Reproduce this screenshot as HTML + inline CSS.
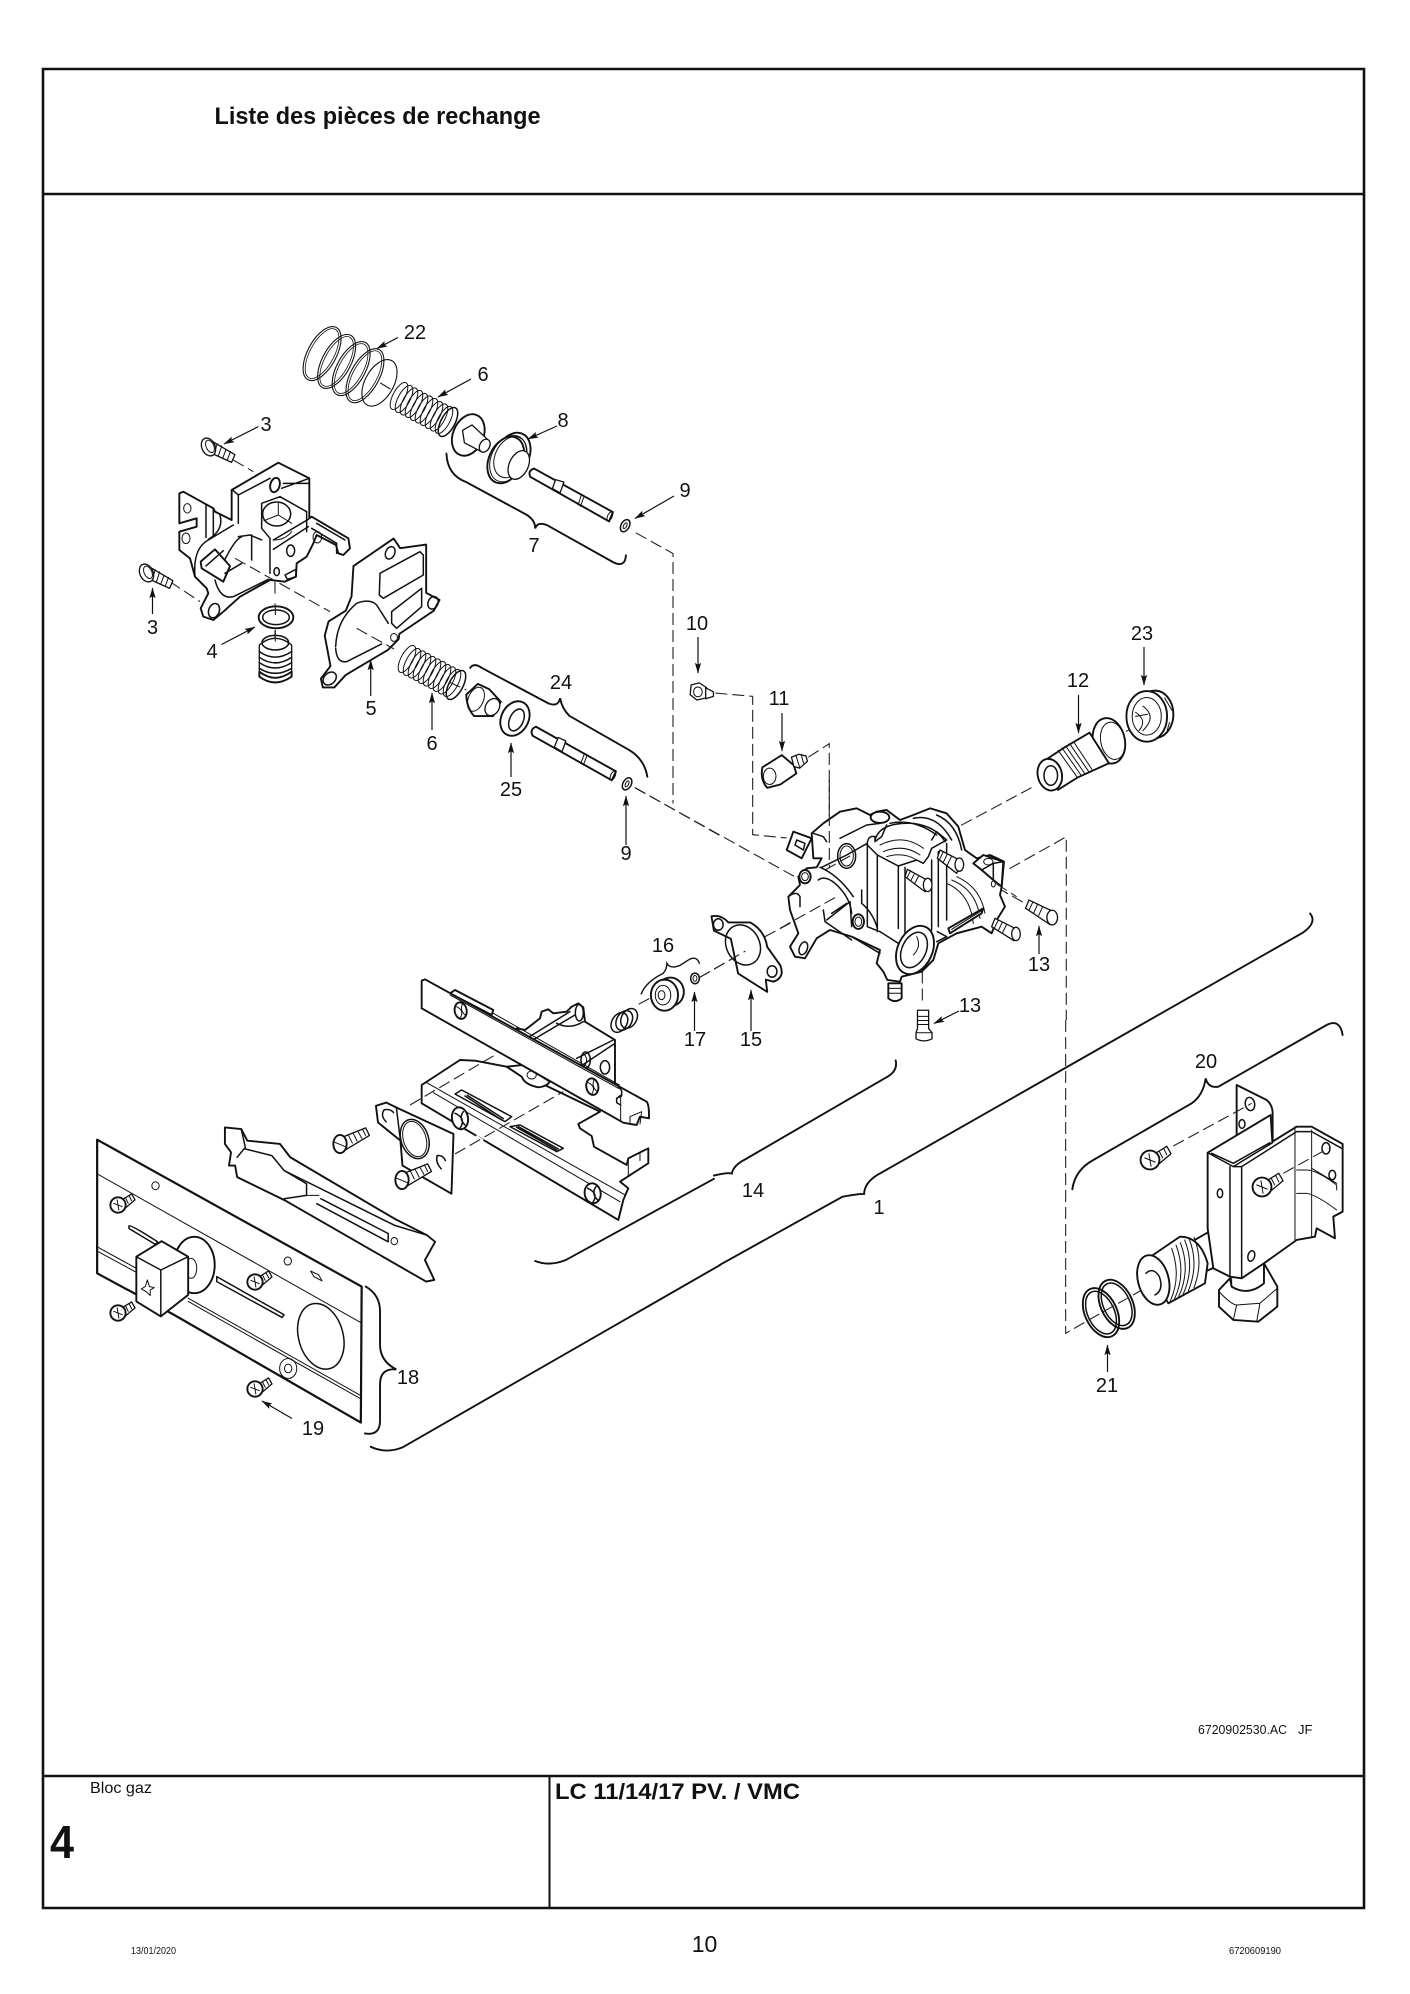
<!DOCTYPE html>
<html lang="fr"><head><meta charset="utf-8"><title>Liste des pièces de rechange</title>
<style>
html,body{margin:0;padding:0;background:#fff}
svg{display:block}
svg *{vector-effect:non-scaling-stroke}
text{font-family:"Liberation Sans",sans-serif;fill:#111;stroke:none}
.n{font-size:20px;text-anchor:middle}
.o{fill:#fff;stroke:#111;stroke-width:1.9;stroke-linejoin:round;stroke-linecap:round}
.t{fill:none;stroke:#111;stroke-width:1;stroke-linejoin:round;stroke-linecap:round}
.m{fill:none;stroke:#111;stroke-width:1.5;stroke-linejoin:round;stroke-linecap:round}
.w{fill:#fff;stroke:#111;stroke-width:1.3;stroke-linejoin:round}
.d{fill:none;stroke:#222;stroke-width:1.1;stroke-dasharray:12 5}
.b{fill:none;stroke:#111;stroke-width:1.9;stroke-linecap:round}
.a{stroke:#111;stroke-width:1.2;fill:none;marker-end:url(#ah)}
</style></head><body>
<svg width="1410" height="1994" viewBox="0 0 1410 1994" xmlns="http://www.w3.org/2000/svg">
<defs>
<marker id="ah" markerWidth="9" markerHeight="6" refX="8.5" refY="3" orient="auto" markerUnits="strokeWidth"><path d="M0,0.4L9,3L0,5.6L1.6,3Z" fill="#111"/></marker>
<g id="sc">
<path class="w" d="M2,-6L24,7L21,14L-1,4Z"/>
<path class="t" d="M8,-3L5,6M12,-1L9,8M16,2L13,10M20,4L17,12"/>
<ellipse class="w" cx="0" cy="0" rx="6" ry="8.5" transform="rotate(-25)"/>
<ellipse class="t" cx="1.5" cy="0" rx="3.5" ry="6" transform="rotate(-25)"/>
</g>
<g id="sp">
<ellipse class="t" cx="-24" cy="-13" rx="6" ry="15" transform="rotate(28 -24 -13)"/>
<ellipse class="t" cx="-19" cy="-10" rx="6" ry="15" transform="rotate(28 -19 -10)"/>
<ellipse class="t" cx="-14" cy="-7.5" rx="6" ry="15" transform="rotate(28 -14 -7.5)"/>
<ellipse class="t" cx="-9" cy="-5" rx="6" ry="15" transform="rotate(28 -9 -5)"/>
<ellipse class="t" cx="-4" cy="-2" rx="6" ry="15" transform="rotate(28 -4 -2)"/>
<ellipse class="t" cx="1" cy="0.5" rx="6" ry="15" transform="rotate(28 1 0.5)"/>
<ellipse class="t" cx="6" cy="3" rx="6" ry="15" transform="rotate(28 6 3)"/>
<ellipse class="t" cx="11" cy="6" rx="6" ry="15" transform="rotate(28 11 6)"/>
<ellipse class="t" cx="16" cy="8.5" rx="6" ry="15" transform="rotate(28 16 8.5)"/>
<ellipse class="t" cx="21" cy="11" rx="6" ry="15" transform="rotate(28 21 11)"/>
<ellipse class="m" cx="25" cy="13" rx="7" ry="16" transform="rotate(28 25 13)"/>
</g>
<g id="ph">
<path class="w" d="M3,-5L16,-13L20,-6L7,5Z"/>
<path class="t" d="M9,-8L12,-2M13,-11L16,-5"/>
<circle class="o" cx="0" cy="0" r="9"/>
<path class="t" d="M-5,-2L5,2M-1,-6L1,6"/>
</g>
<g id="sl">
<path class="w" d="M2,-7L27,-17L31,-9L6,6Z"/>
<path class="t" d="M9,-9L13,-1M14,-11L18,-3M19,-13L23,-6M24,-15L27,-9"/>
<ellipse class="o" cx="0" cy="0" rx="7" ry="9.5"/>
<path class="t" d="M-6,-2L6,3"/>
</g>
</defs>

<!-- frame -->
<rect width="1410" height="1994" fill="#fff"/>
<g fill="none" stroke="#111">
<rect x="43" y="69" width="1321" height="1839" stroke-width="2.6"/>
<path d="M43,194H1364" stroke-width="2.4"/>
<path d="M43,1776H1364" stroke-width="2.6"/>
<path d="M549.5,1776V1908" stroke-width="2"/>
</g>
<text x="214.5" y="124" font-size="24" font-weight="bold" textLength="326" lengthAdjust="spacingAndGlyphs">Liste des pièces de rechange</text>
<text x="90" y="1793" font-size="16" textLength="62" lengthAdjust="spacingAndGlyphs">Bloc gaz</text>
<text x="555" y="1799" font-size="22" font-weight="bold" textLength="245" lengthAdjust="spacingAndGlyphs">LC 11/14/17 PV. / VMC</text>
<text x="50" y="1858" font-size="46" font-weight="bold" textLength="24" lengthAdjust="spacingAndGlyphs">4</text>
<text x="704.5" y="1952" font-size="23" text-anchor="middle">10</text>
<text x="131" y="1954" font-size="10.5" textLength="45" lengthAdjust="spacingAndGlyphs">13/01/2020</text>
<text x="1229" y="1954" font-size="10.5" textLength="52" lengthAdjust="spacingAndGlyphs">6720609190</text>
<text x="1198" y="1734" font-size="13" textLength="89" lengthAdjust="spacingAndGlyphs">6720902530.AC</text>
<text x="1298" y="1734" font-size="13">JF</text>

<!-- G1: upper left region -->
<g transform="translate(120,300) scale(.3827,.3571)">
<path class="d" d="M860,1070L905,1092M1345,1365L1568,1500M680,232L715,255M1348,652L1445,710V1410"/>
<path class="b" d="M853,430Q855,490 905,510L1060,600Q1085,615 1085,640Q1090,620 1115,630L1290,735Q1320,750 1322,715"/>
<path class="b" d="M915,1030Q925,1015 945,1030L1120,1130Q1145,1140 1150,1115Q1155,1145 1175,1165L1330,1260Q1370,1285 1378,1335"/>
<!-- big spring 22 -->
<g fill="none" stroke="#111">
<g stroke-width="1.1">
<ellipse cx="528" cy="150" rx="38" ry="82" transform="rotate(26 528 150)"/>
<ellipse cx="566" cy="172" rx="38" ry="82" transform="rotate(26 566 172)"/>
<ellipse cx="604" cy="192" rx="38" ry="82" transform="rotate(26 604 192)"/>
<ellipse cx="640" cy="212" rx="38" ry="82" transform="rotate(26 640 212)"/>
<ellipse cx="678" cy="232" rx="38" ry="70" transform="rotate(26 678 232)"/>
</g>
<g stroke-width=".8">
<ellipse cx="528" cy="150" rx="32" ry="76" transform="rotate(26 528 150)"/>
<ellipse cx="566" cy="172" rx="32" ry="76" transform="rotate(26 566 172)"/>
<ellipse cx="604" cy="192" rx="32" ry="76" transform="rotate(26 604 192)"/>
<ellipse cx="640" cy="212" rx="32" ry="76" transform="rotate(26 640 212)"/>
</g>
</g>
<!-- cup + stem -->
<ellipse class="o" cx="910" cy="378" rx="40" ry="60" transform="rotate(20 910 378)"/>
<path class="w" d="M895,365L920,350L965,395L945,425L900,400Z"/>
<ellipse class="w" cx="953" cy="408" rx="13" ry="19" transform="rotate(25 953 408)"/>
<!-- diaphragm 8 -->
<ellipse class="o" cx="1025" cy="435" rx="44" ry="66" transform="rotate(22 1025 435)"/>
<ellipse class="o" cx="1008" cy="448" rx="44" ry="68" transform="rotate(22 1008 448)"/>
<ellipse class="t" cx="1014" cy="444" rx="44" ry="68" transform="rotate(22 1014 444)"/>
<ellipse class="t" cx="1020" cy="440" rx="40" ry="60" transform="rotate(22 1020 440)"/>
<ellipse class="w" cx="1042" cy="462" rx="25" ry="42" transform="rotate(22 1042 462)"/>
<!-- shaft upper -->
<path class="o" d="M1082,472L1288,594L1278,620L1072,495Q1065,478 1082,472Z"/>
<path class="w" d="M1138,503L1160,510L1150,540L1130,528Z"/>
<path class="t" d="M1205,548L1197,574M1212,552L1203,578"/>
<ellipse class="t" cx="1280" cy="606" rx="6" ry="13" transform="rotate(22 1280 606)"/>
<ellipse class="m" cx="1320" cy="632" rx="11" ry="18" transform="rotate(25 1320 632)"/>
<ellipse class="t" cx="1320" cy="632" rx="4" ry="9" transform="rotate(25 1320 632)"/>
<!-- gasket 5 outer -->
<path class="o" d="M610,745L715,668L732,695L800,685V820L835,840L820,870L730,935L728,950L700,980L590,1050L560,1085L530,1085L525,1060L550,1025L535,940L545,900L590,870L605,830Z"/>
<ellipse class="m" cx="706" cy="708" rx="12" ry="18" transform="rotate(20 706 708)"/>
<ellipse class="m" cx="818" cy="848" rx="13" ry="18" transform="rotate(20 818 848)"/>
<ellipse class="m" cx="548" cy="1060" rx="15" ry="20" transform="rotate(40 548 1060)"/>
<ellipse class="t" cx="716" cy="945" rx="9" ry="11"/>
<!-- lower cup -->
<path class="o" d="M905,1105L935,1075L965,1090L995,1125L975,1165L925,1165Q905,1140 905,1105Z"/>
<ellipse class="t" cx="930" cy="1118" rx="20" ry="35" transform="rotate(20 930 1118)"/>
<ellipse class="w" cx="973" cy="1140" rx="18" ry="25" transform="rotate(25 973 1140)"/>
<ellipse class="o" cx="1032" cy="1172" rx="36" ry="50" transform="rotate(22 1032 1172)"/>
<ellipse class="m" cx="1036" cy="1176" rx="18" ry="32" transform="rotate(22 1036 1176)"/>
<path class="o" d="M1087,1195L1296,1320L1285,1345L1078,1220Q1070,1202 1087,1195Z"/>
<path class="w" d="M1145,1225L1165,1235L1155,1265L1135,1252Z"/>
<path class="t" d="M1213,1272L1204,1298M1220,1276L1211,1302"/>
<ellipse class="t" cx="1288" cy="1332" rx="6" ry="13" transform="rotate(22 1288 1332)"/>
<ellipse class="m" cx="1325" cy="1355" rx="11" ry="18" transform="rotate(25 1325 1355)"/>
<ellipse class="t" cx="1325" cy="1355" rx="4" ry="9" transform="rotate(25 1325 1355)"/>
</g>

<!-- A: cover, ring, plug, gasket interior (true 3x around 170,460) -->
<g transform="translate(170,460) scale(.3333)">
<path class="o" d="M28,100L40,95L130,145L135,155L185,180V90L325,8L418,55V175L425,170L535,235L540,265L520,285L505,280L498,255L440,225L430,250L410,290L380,310L378,350L345,365L300,360L210,410L160,455L130,480L100,470L92,445L115,400L110,385L75,350L60,295L28,270V215L80,200V175L28,190Z"/>
<path class="m" d="M190,92L205,105V190M205,105L300,55M335,85L418,55M340,70L418,70"/>
<ellipse class="o" cx="315" cy="75" rx="14" ry="22" transform="rotate(15 315 75)"/>
<path class="m" d="M275,130L330,110L410,155V215M275,130V205L300,235V340M310,240L415,178M310,268L415,200"/>
<ellipse class="m" cx="320" cy="162" rx="42" ry="36"/>
<path class="t" d="M325,130V165M282,182L325,165L365,190"/>
<path class="t" d="M310,240Q345,240 365,215"/>
<ellipse class="m" cx="362" cy="272" rx="12" ry="17"/>
<path class="m" d="M130,145V225M108,135V232M150,165Q162,210 115,238M75,350Q68,265 115,240L190,195"/>
<ellipse class="t" cx="52" cy="145" rx="11" ry="14"/>
<ellipse class="t" cx="48" cy="235" rx="12" ry="16"/>
<path class="m" d="M425,205L500,250V280M440,190L525,240"/>
<ellipse class="t" cx="442" cy="232" rx="13" ry="17"/>
<path class="m" d="M205,230L240,225L275,240M245,225V300M150,330Q190,240 215,230"/>
<path class="o" d="M92,305L135,268L180,318L160,365L95,325Z"/>
<path class="m" d="M108,318L160,272M160,365L180,320"/>
<path class="m" d="M135,360Q150,420 190,410L295,358M165,340L215,310"/>
<ellipse class="m" cx="132" cy="452" rx="16" ry="22" transform="rotate(20 132 452)"/>
<ellipse class="m" cx="320" cy="335" rx="8" ry="12"/>
<path class="m" d="M345,345L378,328V350L352,358Z"/>
<path class="d" d="M190,0L250,35M195,295L480,455M0,365L90,425M315,365V410M315,430V465M315,510V545M560,505L672,567"/>
<!-- gasket interior -->
<path class="m" d="M630,340L750,275L760,285V345L640,415L628,405Z"/>
<path class="m" d="M665,455L755,385V440L680,505L665,490Z"/>
<path class="m" d="M497,560Q500,480 560,430Q600,415 620,435L655,490M635,552L530,605Q500,610 497,565"/>
<!-- ring + plug -->
<ellipse class="o" cx="318" cy="472" rx="52" ry="33"/>
<ellipse class="m" cx="318" cy="472" rx="40" ry="22"/>
<path class="w" d="M268,555Q315,515 365,555V645Q315,680 268,645Z"/>
<ellipse class="m" cx="316" cy="548" rx="40" ry="22"/>
<path class="m" d="M268,575Q315,608 365,575M268,592Q315,625 365,592M268,608Q315,640 365,608M268,625Q315,655 365,625"/>
<path class="o" d="M268,635Q315,672 365,635V650Q315,685 268,650Z"/>
<path class="d" d="M316,510V545M316,440V465"/>
</g>
<use href="#sp" transform="translate(423,409)"/>
<use href="#sp" transform="translate(431,672)"/>
<use href="#sc" transform="translate(208.5,447) scale(1.1)"/>
<use href="#sc" transform="translate(146.5,573) scale(1.1)"/>

<!-- G3: lower-left region -->
<g transform="translate(80,950) scale(.4082,.3316)">
<path class="b" d="M700,1015Q735,1040 735,1090V1190Q735,1240 775,1265Q735,1260 735,1310V1420Q735,1465 698,1458"/>
<path class="b" d="M1115,938Q1150,955 1190,935L1553,690"/>
<path class="b" d="M712,1498Q750,1520 790,1500L1568,950"/>
</g>

<!-- B: bracket assembly (3x around 410,970) -->
<g transform="translate(410,970) scale(.3333)">
<path class="o" d="M320,175L345,180L390,145L395,125L415,118L430,130L470,125L485,110L505,100L520,112L525,155L615,210V345L560,345L380,260Z"/>
<path class="m" d="M350,205L480,125M365,212L495,135M440,160Q480,180 520,155"/>
<ellipse class="m" cx="508" cy="128" rx="12" ry="25"/>
<path class="m" d="M500,265L610,210M507,292L612,222"/>
<ellipse class="m" cx="527" cy="270" rx="14" ry="24"/>
<path class="t" d="M520,250Q540,270 520,292"/>
<ellipse class="m" cx="585" cy="292" rx="14" ry="20"/>
<path class="o" d="M120,70L135,60L250,120L245,135Z"/>
<!-- lower plate -->
<path class="o" d="M35,345L150,270L195,272L290,290L570,425L505,462L510,475L545,498L552,530L650,585L655,565L715,535V580L650,622L630,635L655,655L640,690L625,750L35,400Z"/>
<path class="t" d="M50,338L645,675M70,368L630,695M655,565V618M690,548V572"/>
<path class="m" d="M135,372L155,360L305,440L285,455Z"/>
<path class="m" d="M165,378L275,450M172,376L280,446"/>
<path class="m" d="M300,470L330,465L460,535L440,545Z"/>
<path class="m" d="M320,472L440,540M325,470L445,537"/>
<ellipse class="o" cx="150" cy="445" rx="24" ry="33" transform="rotate(-10 150 445)"/>
<path class="m" d="M135,430Q170,445 150,475M160,425Q145,445 165,465"/>
<ellipse class="o" cx="548" cy="670" rx="24" ry="30" transform="rotate(-10 548 670)"/>
<path class="m" d="M533,655Q568,670 548,698M558,650Q543,670 563,690"/>
<!-- gap in the plate where the dashes pass -->
<path d="M197,500L218,514" stroke="#fff" stroke-width="4"/>
<path class="d" d="M0,405L255,255M135,552L460,365"/>
<!-- disc -->
<path class="o" d="M290,290L335,320Q345,345 385,352Q410,350 420,335L340,285Z"/>
<ellipse class="t" cx="365" cy="315" rx="14" ry="12"/>
<!-- upper bar -->
<path class="o" d="M35,32L45,28L710,395Q718,405 717,445L690,440L680,465L660,462L640,458L35,115Z"/>
<path class="t" d="M120,75L625,355M250,130L628,345M620,385L632,375V452M660,462V440L695,425L690,462"/>
<path class="m" d="M625,350L635,362V378L620,385V398L632,405"/>
<ellipse class="o" cx="152" cy="122" rx="18" ry="25" transform="rotate(-10 152 122)"/>
<path class="t" d="M140,110Q165,122 150,145M158,100Q148,120 165,135"/>
<ellipse class="o" cx="547" cy="350" rx="18" ry="25" transform="rotate(-10 547 350)"/>
<path class="t" d="M535,338Q560,350 545,373M553,328Q543,348 560,363"/>
</g>

<!-- G3 continued: mounting plate, slider, front plate -->
<g transform="translate(80,950) scale(.4082,.3316)">
<path class="o" d="M725,470L750,460L775,475L915,555L910,735L790,650L785,575L730,520Z"/>
<path class="m" d="M775,475L785,575"/>
<ellipse class="m" cx="820" cy="570" rx="34" ry="60" transform="rotate(-12 820 570)"/>
<ellipse class="t" cx="820" cy="570" rx="28" ry="54" transform="rotate(-12 820 570)"/>
<path class="m" d="M750,518Q735,500 745,482Q760,478 768,490"/>
<path class="m" d="M885,660Q870,640 875,620Q890,618 895,635"/>
<!-- slider -->
<path class="o" d="M355,535L395,540L410,575L490,585L515,625L770,810L850,860L870,880L845,935L868,995L848,1000L505,757L385,685L380,650L365,650L370,610L355,585Z"/>
<path class="m" d="M395,540L405,595L385,625M405,600L470,620L500,665L770,830L850,860"/>
<path class="m" d="M500,665L555,705V740L500,750"/>
<path class="m" d="M590,750L755,855V880L580,765"/>
<path class="t" d="M555,740H585"/>
<ellipse class="t" cx="770" cy="878" rx="8" ry="11"/>
<!-- front plate -->
<path class="o" d="M42,572L690,1015L688,1425L230,1100L42,975Z" style="stroke-width:2.2"/>
<path class="t" d="M42,675L690,1125M42,895L138,960M42,908L138,972M265,1050L690,1345M265,1060L690,1355"/>
<path class="m" d="M120,832Q125,828 190,880L185,888L120,840ZM335,985L500,1100L495,1108L335,1000Z"/>
<ellipse class="m" cx="590" cy="1165" rx="55" ry="100" transform="rotate(-10 590 1165)"/>
<ellipse class="t" cx="185" cy="711" rx="9" ry="12"/>
<ellipse class="t" cx="509" cy="938" rx="9" ry="12"/>
<ellipse class="t" cx="510" cy="1262" rx="21" ry="30"/>
<ellipse class="t" cx="510" cy="1262" rx="9" ry="13"/>
<path class="t" d="M565,968L585,980L593,998L573,985Z"/>
<!-- knob -->
<ellipse class="o" cx="280" cy="950" rx="50" ry="85"/>
<ellipse class="t" cx="272" cy="960" rx="14" ry="30"/>
<path class="o" d="M138,925L200,878L265,925V1040L198,1105L138,1060Z"/>
<path class="m" d="M138,925L198,965L265,925M198,965V1105"/>
<path class="t" d="M165,995L170,1015L182,1018L172,1025L172,1042L162,1030L150,1022L160,1015Z"/>
</g>
<use href="#ph" transform="translate(118,1205) scale(.85)"/>
<use href="#ph" transform="translate(118,1313) scale(.85)"/>
<use href="#ph" transform="translate(255,1282) scale(.85)"/>
<use href="#ph" transform="translate(255,1389) scale(.85)"/>
<use href="#sl" transform="translate(340,1144) scale(.95)"/>
<use href="#sl" transform="translate(402,1180) scale(.95)"/>

<!-- G2: centre dashes, braces, small parts -->
<g transform="translate(600,600) scale(.4847,.4082)">
<path class="b" d="M610,1128Q615,1155 590,1170L300,1370Q275,1385 272,1405Q262,1402 235,1410"/>
<path class="b" d="M1465,768Q1480,790 1450,815L570,1410Q545,1430 545,1455Q530,1455 500,1462L247,1629"/>
<path class="b" d="M85,965Q95,935 130,915Q138,905 138,890Q145,905 165,895L185,880Q200,872 205,890" style="stroke-width:1.4"/>
<path class="d" d="M72,460L405,680M238,228L315,236V575L385,583M430,385L473,352V560M745,552L890,460M1085,322L1125,298M845,658L962,580V1029M820,705L880,745M340,825L490,730M205,925L300,860M665,910V990M80,990L120,965"/>
</g>

<!-- C: gas valve body (3x around 780,780) -->
<g transform="translate(780,780) scale(.3333)">
<path class="o" d="M60,315L55,290L80,265L110,262L125,235L100,235L95,160L130,130L180,95L230,85L270,105L290,95L320,90L360,120L400,105L450,85L500,100L535,140L555,210L590,235L630,225L672,245L665,320L660,345L675,380L650,420L635,460L605,440L530,460L475,490L460,540L425,575L365,590L360,605L322,600L310,575L290,550L300,510L215,470L150,450L110,475L75,535L45,530L30,500L55,460L30,390L25,350Z"/>
<!-- top ring -->
<path class="m" d="M285,180Q300,125 400,130Q470,140 495,185M330,130Q400,115 470,165M400,115Q470,100 515,180M470,105Q530,130 545,210"/>
<path class="t" d="M300,195Q370,160 430,205M310,215Q370,190 420,225M320,230Q370,215 410,240"/>
<ellipse class="o" cx="300" cy="112" rx="28" ry="17"/>
<!-- column -->
<path class="m" d="M262,195Q262,165 285,170V185L305,170L320,135"/>
<path class="m" d="M262,195L292,225L355,258L410,240L430,250L445,230L455,205L500,180L470,155L455,180"/>
<path class="m" d="M262,195V440L300,455L355,490M292,225V455M355,258V445M375,262V470M455,240V450M475,215V440M500,190V420"/>
<path class="m" d="M180,175L260,135L300,130M125,262L200,225L262,190"/>
<ellipse class="m" cx="200" cy="228" rx="27" ry="37"/>
<ellipse class="t" cx="200" cy="228" rx="20" ry="30"/>
<!-- left disc -->
<path class="m" d="M120,262Q175,285 220,350M115,300Q135,285 165,310Q210,350 215,400M245,330V370Q280,400 292,445"/>
<path class="m" d="M130,390L135,425L215,480M140,420L210,365L215,440M155,400L200,370"/>
<path class="m" d="M215,470L300,520M25,350Q50,330 60,350V380"/>
<ellipse class="o" cx="75" cy="290" rx="17" ry="20"/>
<ellipse class="t" cx="75" cy="290" rx="10" ry="12"/>
<ellipse class="o" cx="235" cy="425" rx="17" ry="22"/>
<ellipse class="t" cx="235" cy="425" rx="10" ry="14"/>
<ellipse class="m" cx="70" cy="505" rx="12" ry="20" transform="rotate(20 70 505)"/>
<!-- connector -->
<path class="o" d="M40,155L20,210L65,235L95,175Z"/>
<path class="m" d="M50,180L75,190L70,210L45,195ZM100,160L130,170L140,185"/>
<!-- right port -->
<path class="t" d="M500,310Q570,340 580,430M515,300Q590,330 600,415M530,290Q600,320 615,400"/>
<path class="o" d="M505,445L610,385L605,400L510,460Z"/>
<path class="t" d="M515,448L605,392"/>
<path class="o" d="M580,250L610,225L670,245L665,320L640,300L605,270Z"/>
<path class="m" d="M605,270L640,250M640,250V300M640,250L670,245"/>
<ellipse class="t" cx="625" cy="245" rx="14" ry="10"/>
<ellipse class="t" cx="640" cy="312" rx="6" ry="9"/>
<!-- bottom port -->
<ellipse class="o" cx="405" cy="510" rx="52" ry="76" transform="rotate(25 405 510)"/>
<ellipse class="m" cx="402" cy="510" rx="36" ry="56" transform="rotate(25 402 510)"/>
<path class="t" d="M410,470Q425,500 400,525"/>
<path class="m" d="M472,455L500,470L470,485"/>
<!-- stem -->
<path class="o" d="M325,610H365V655Q345,672 325,655Z"/>
<path class="t" d="M325,625H365M325,640H365"/>
<!-- screws -->
<path class="w" d="M480,210L548,245L530,280L472,235Z"/>
<ellipse class="w" cx="538" cy="254" rx="13" ry="20"/>
<path class="t" d="M490,215L478,240M502,222L490,247M514,230L502,255"/>
<path class="w" d="M382,268L450,305L435,335L375,290Z"/>
<ellipse class="w" cx="443" cy="315" rx="13" ry="20"/>
<path class="t" d="M392,272L380,295M404,280L392,303M416,288L404,311"/>
<path class="w" d="M645,415L715,450L702,482L635,440Z"/>
<ellipse class="w" cx="708" cy="462" rx="13" ry="20"/>
<path class="t" d="M655,420L643,445M667,427L655,452M679,435L667,460"/>
<path class="d" d="M148,0V265M135,270L215,225M0,445L170,350M650,312L710,350"/>
</g>

<!-- G2: screws & small parts -->
<g transform="translate(600,600) scale(.4847,.4082)">
<path class="w" d="M885,735L938,765L928,795L878,755Z"/>
<ellipse class="w" cx="933" cy="778" rx="11" ry="18"/>
<path class="t" d="M893,740L885,760M903,745L895,766M913,752L905,773"/>
<path class="w" d="M655,1005H678V1050L685,1060V1075Q668,1085 652,1075V1060L655,1050Z"/>
<path class="t" d="M655,1020H678M655,1030H678M655,1040H678M652,1060H685"/>
<!-- nut 10 -->
<path class="w" d="M188,208L205,203L220,215L218,240L200,245L186,232Z"/>
<ellipse class="t" cx="202" cy="225" rx="9" ry="12"/>
<path class="w" d="M218,215L234,225V236L218,242Z"/>
<!-- 11 -->
<path class="o" d="M335,410L375,380L400,405L405,425L372,452L345,460Q330,440 335,410Z"/>
<ellipse class="t" cx="350" cy="432" rx="13" ry="20"/>
<path class="w" d="M395,385L410,378L425,382L428,395L412,412L400,408Z"/>
<path class="t" d="M404,380L412,410M415,378L420,400"/>
<!-- 12 -->
<ellipse class="o" cx="1050" cy="345" rx="33" ry="56" transform="rotate(-8 1050 345)"/>
<ellipse class="t" cx="1058" cy="345" rx="25" ry="46" transform="rotate(-8 1058 345)"/>
<path class="o" d="M915,395L960,360L1010,325L1050,400L985,435L945,465Z"/>
<path class="t" d="M945,368L985,435M953,362L993,430M961,358L1000,425M969,352L1008,420M977,347L1015,415"/>
<ellipse class="o" cx="928" cy="428" rx="25" ry="39" transform="rotate(-8 928 428)"/>
<ellipse class="m" cx="930" cy="430" rx="14" ry="24"/>
<!-- 23 -->
<ellipse class="o" cx="1145" cy="280" rx="38" ry="58"/>
<path class="t" d="M1165,240L1180,270M1175,300L1170,320"/>
<ellipse class="o" cx="1128" cy="285" rx="42" ry="62"/>
<ellipse class="t" cx="1128" cy="285" rx="30" ry="46"/>
<path class="t" d="M1120,260Q1150,285 1120,320M1105,285L1130,280M1105,275Q1130,295 1112,320"/>
<!-- 15 -->
<path class="o" d="M230,775Q250,770 265,790L310,790Q340,810 345,850L372,895Q382,925 358,935L342,930L345,960L285,915L270,830L235,810Z"/>
<ellipse class="m" cx="295" cy="845" rx="35" ry="50" transform="rotate(-15 295 845)"/>
<ellipse class="m" cx="244" cy="795" rx="10" ry="14"/>
<ellipse class="m" cx="355" cy="910" rx="10" ry="14"/>
<path class="d" d="M205,925L300,860"/>
<!-- 17 -->
<ellipse class="m" cx="196" cy="927" rx="9" ry="13"/>
<ellipse class="t" cx="196" cy="927" rx="4" ry="7"/>
<!-- 16 -->
<ellipse class="o" cx="145" cy="960" rx="28" ry="35"/>
<ellipse class="o" cx="133" cy="968" rx="28" ry="38"/>
<ellipse class="t" cx="130" cy="968" rx="16" ry="24"/>
<ellipse class="t" cx="127" cy="968" rx="7" ry="11"/>
<!-- small spring -->
<ellipse class="m" cx="40" cy="1035" rx="16" ry="25" transform="rotate(20 40 1035)"/>
<ellipse class="m" cx="50" cy="1030" rx="16" ry="25" transform="rotate(20 50 1030)"/>
<ellipse class="m" cx="60" cy="1025" rx="16" ry="25" transform="rotate(20 60 1025)"/>
</g>

<!-- G4: right -->
<g transform="translate(1040,1020) scale(.3333,.3333)">
<path class="b" d="M97,508Q105,450 160,420L455,250Q490,225 497,175Q505,205 535,200L860,15Q900,-5 908,45"/>
<path class="d" d="M77,0V940L190,875M280,825L345,785"/>
<!-- back tab -->
<path class="o" d="M590,195L680,240Q698,255 698,280V365L590,345Z"/>
<ellipse class="m" cx="630" cy="252" rx="14" ry="20" transform="rotate(-10 630 252)"/>
<ellipse class="m" cx="606" cy="312" rx="9" ry="13"/>
<!-- elbow stem behind bracket -->
<path class="o" d="M455,665L520,628Q570,640 578,690L575,728L540,735L495,755Z"/>
<!-- channel -->
<path class="o" d="M503,398L692,285L697,365L770,320L815,320L908,372V575L880,590L885,655L830,625L825,650L770,660L672,730L605,775L570,770L520,745L503,625Z"/>
<path class="m" d="M503,398L580,440L698,368M515,400L580,430L690,368M605,775V440L770,335L815,335L905,385M570,770V440M580,440H605"/>
<path class="t" d="M765,320V660M815,330V650M770,450H800Q830,450 890,495V510M770,520H800Q830,525 890,570M815,445L890,490"/>
<ellipse class="m" cx="858" cy="385" rx="12" ry="17"/>
<ellipse class="m" cx="877" cy="465" rx="10" ry="14"/>
<ellipse class="m" cx="540" cy="520" rx="8" ry="13"/>
<ellipse class="m" cx="634" cy="708" rx="10" ry="16" transform="rotate(15 634 708)"/>
<path class="d" d="M400,378L635,250M730,460L865,385"/>
<!-- nut -->
<path class="o" d="M537,810L570,775L575,800Q625,830 672,790V730L712,800V860L655,905L580,900L537,860Z"/>
<path class="t" d="M537,815Q575,855 590,855L660,850L712,805M590,855L580,900M660,850L650,905M575,775V800M672,730V790"/>
<!-- threaded cylinder -->
<path class="o" d="M310,725L420,650Q480,650 503,730L495,790L385,850Z"/>
<path class="t" d="M395,685Q425,770 390,845M408,675Q440,760 403,838M421,668Q453,750 416,830M434,660Q466,740 430,822M447,655Q478,732 445,813M462,652Q492,725 462,803"/>
<ellipse class="o" cx="340" cy="780" rx="46" ry="76" transform="rotate(-15 340 780)"/>
<path class="m" d="M318,760Q340,740 358,770Q372,810 345,825"/>
<!-- spring 21 -->
<ellipse class="o" cx="230" cy="853" rx="48" ry="78" transform="rotate(-25 230 853)" style="fill:none"/>
<ellipse class="m" cx="230" cy="853" rx="40" ry="68" transform="rotate(-25 230 853)"/>
<ellipse class="o" cx="183" cy="878" rx="48" ry="78" transform="rotate(-25 183 878)" style="fill:none"/>
<ellipse class="m" cx="183" cy="878" rx="40" ry="68" transform="rotate(-25 183 878)"/>
<path class="d" d="M190,875L280,825"/>
</g>
<use href="#ph" transform="translate(1150,1160) scale(1.05)"/>
<use href="#ph" transform="translate(1262,1187) scale(1.05)"/>

<!-- arrows -->
<path class="a" d="M398,337.5L377,348.5"/>
<path class="a" d="M471,379L438,397"/>
<path class="a" d="M557,426L528,439"/>
<path class="a" d="M258.5,426.5L224,444"/>
<path class="a" d="M674,496L635,518.5"/>
<path class="a" d="M152.5,614V588"/>
<path class="a" d="M221.5,644.5L255,627"/>
<path class="a" d="M370.7,696V660"/>
<path class="a" d="M432,730V693"/>
<path class="a" d="M511,777V743"/>
<path class="a" d="M626,845V796"/>
<path class="a" d="M698,637V673"/>
<path class="a" d="M782,713V751"/>
<path class="a" d="M1078.5,695V733"/>
<path class="a" d="M1144,647V685"/>
<path class="a" d="M1039,954V926"/>
<path class="a" d="M959,1011L934,1023.5"/>
<path class="a" d="M694.5,1031V992"/>
<path class="a" d="M751,1031V990"/>
<path class="a" d="M292,1418.5L262,1401"/>
<path class="a" d="M1107.5,1372V1345"/>

<!-- labels -->
<g>
<text class="n" x="415" y="339">22</text>
<text class="n" x="483" y="381">6</text>
<text class="n" x="563" y="427">8</text>
<text class="n" x="266" y="431">3</text>
<text class="n" x="685" y="497">9</text>
<text class="n" x="152.5" y="634">3</text>
<text class="n" x="534" y="552">7</text>
<text class="n" x="212" y="658">4</text>
<text class="n" x="371" y="715">5</text>
<text class="n" x="432" y="750">6</text>
<text class="n" x="561" y="689">24</text>
<text class="n" x="511" y="796">25</text>
<text class="n" x="626" y="860">9</text>
<text class="n" x="697" y="630">10</text>
<text class="n" x="779" y="705">11</text>
<text class="n" x="1078" y="687">12</text>
<text class="n" x="1142" y="640">23</text>
<text class="n" x="1039" y="971">13</text>
<text class="n" x="970" y="1012">13</text>
<text class="n" x="663" y="952">16</text>
<text class="n" x="695" y="1046">17</text>
<text class="n" x="751" y="1046">15</text>
<text class="n" x="753" y="1197">14</text>
<text class="n" x="879" y="1214">1</text>
<text class="n" x="1206" y="1068">20</text>
<text class="n" x="408" y="1384">18</text>
<text class="n" x="313" y="1435">19</text>
<text class="n" x="1107" y="1392">21</text>
</g>
</svg>
</body></html>
